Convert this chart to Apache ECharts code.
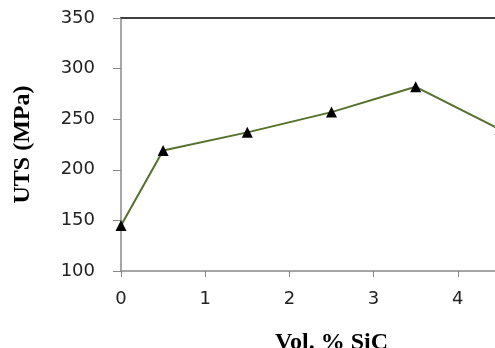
<!DOCTYPE html>
<html>
<head>
<meta charset="utf-8">
<script src="https://cdn.jsdelivr.net/npm/echarts@6/dist/echarts.min.js"></script>
<style>
html,body{margin:0;padding:0;background:#fff;}
#chart{width:495px;height:348px;}
</style>
</head>
<body>
<div id="chart"></div>
<script>
// vol % SiC vs UTS
var volSiC = [0, 0.5, 1.5, 2.5, 3.5, 4.5];
var uts = [145, 219, 237, 257, 282, 240];
var yTicks = [100, 150, 200, 250, 300, 350];

var points = [];
for (var i = 0; i < volSiC.length; i++) {
    points.push([volSiC[i], uts[i]]);
}

var myChart = echarts.init(document.getElementById('chart'));
myChart.setOption({
    animation: false,
    backgroundColor: '#fff',
    grid: { left: 121, top: 18, height: 253, width: 421, outerBoundsMode: 'none', containLabel: false },
    xAxis: [{
        type: 'value',
        min: 0, max: 5, interval: 1,
        name: 'Vol. % SiC',
        nameLocation: 'middle',
        nameGap: 60,
        nameTextStyle: { fontFamily: 'Liberation Serif', fontWeight: 'bold', fontSize: 24, color: '#000' },
        axisLine: { lineStyle: { color: '#888', width: 1.5 } },
        axisTick: { show: true, length: 6, lineStyle: { color: '#888' } },
        axisLabel: { margin: 19, fontFamily: 'DejaVu Sans', fontSize: 18, color: '#222', showMaxLabel: false },
        splitLine: { show: false }
    }, {
        type: 'value',
        position: 'top',
        min: 0, max: 5,
        axisLine: { show: true, lineStyle: { color: '#404040', width: 2 } },
        axisTick: { show: false },
        axisLabel: { show: false },
        splitLine: { show: false }
    }],
    yAxis: {
        type: 'value',
        min: yTicks[0], max: yTicks[yTicks.length - 1], interval: 50,
        name: 'UTS (MPa)',
        nameLocation: 'middle',
        nameGap: 86,
        nameTextStyle: { fontFamily: 'Liberation Serif', fontWeight: 'bold', fontSize: 24, color: '#000' },
        axisLine: { show: true, lineStyle: { color: '#888', width: 1.5 } },
        axisTick: { show: true, length: 8, lineStyle: { color: '#888' } },
        axisLabel: { margin: 26, fontFamily: 'DejaVu Sans', fontSize: 18, color: '#222' },
        splitLine: { show: false }
    },
    series: [{
        type: 'line',
        data: points,
        symbol: 'triangle',
        symbolSize: 11,
        itemStyle: { color: '#000' },
        lineStyle: { color: '#56702e', width: 2 },
        clip: false
    }]
});
</script>
</body>
</html>
